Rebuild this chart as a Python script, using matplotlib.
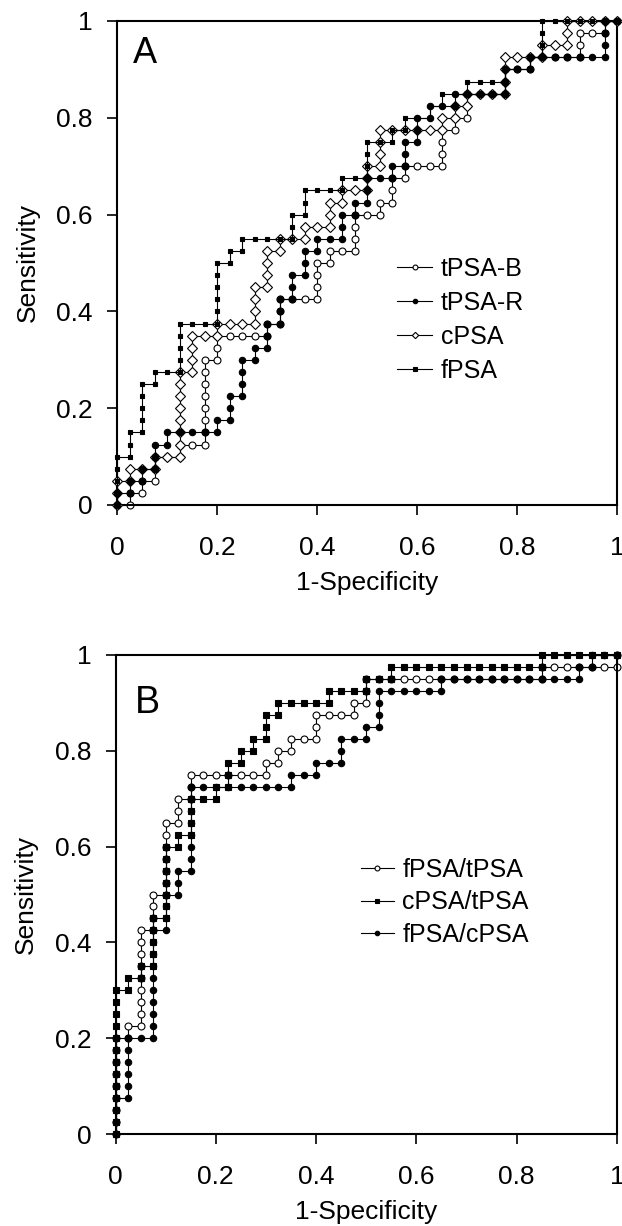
import matplotlib
matplotlib.use('Agg')
import matplotlib.pyplot as plt
import numpy as np

plt.rcParams['font.family'] = ['Liberation Sans', 'DejaVu Sans']

# Number of negatives / positives (each step = one case)
N_NEG = 40
N_POS = 40

# ---------- Panel A : (false-positive count, true-positive count) ----------
tpsa_b_A = [(0,0),(1,0),(1,1),(2,1),(2,2),(3,2),(3,3),(3,4),(4,4),(5,4),(5,5),(6,5),(7,5),
            (7,6),(7,7),(7,8),(7,9),(7,10),(7,11),(7,12),(8,12),(8,13),(8,14),(9,14),(10,14),
            (11,14),(12,14),(12,15),(13,15),(13,16),(13,17),(14,17),(15,17),(16,17),(16,18),
            (16,19),(16,20),(17,20),(17,21),(18,21),(19,21),(19,22),(19,23),(19,24),(20,24),
            (21,24),(21,25),(22,25),(22,26),(22,27),(23,27),(23,28),(24,28),(25,28),(26,28),
            (26,29),(26,30),(26,31),(27,31),(27,32),(28,32),(28,33),(28,34),(29,34),(30,34),
            (31,34),(31,35),(31,36),(32,36),(33,36),(33,37),(34,37),(35,37),(36,37),(37,37),
            (37,38),(37,39),(38,39),(39,39),(39,40),(40,40)]
tpsa_r_A = [(0,0),(0,1),(1,1),(1,2),(2,2),(2,3),(3,3),(3,4),(3,5),(4,5),(4,6),(5,6),(6,6),
            (7,6),(8,6),(8,7),(9,7),(9,8),(9,9),(10,9),(10,10),(10,11),(10,12),(11,12),(11,13),
            (12,13),(12,14),(12,15),(13,15),(13,16),(13,17),(14,17),(14,18),(14,19),(15,19),
            (15,20),(15,21),(16,21),(16,22),(17,22),(18,22),(18,23),(18,24),(19,24),(19,25),
            (20,25),(20,26),(20,27),(21,27),(22,27),(22,28),(23,28),(23,29),(23,30),(24,30),
            (24,31),(24,32),(25,32),(25,33),(26,33),(27,33),(27,34),(28,34),(29,34),(30,34),
            (31,34),(31,35),(31,36),(32,36),(33,36),(33,37),(34,37),(35,37),(36,37),(37,37),
            (38,37),(39,37),(39,38),(39,39),(39,40),(40,40)]
cpsa_A = [(0,0),(0,1),(0,2),(1,2),(1,3),(2,3),(3,3),(3,4),(4,4),(5,4),(5,5),(5,6),(5,7),(5,8),
          (5,9),(5,10),(5,11),(6,11),(6,12),(6,13),(6,14),(7,14),(8,14),(8,15),(9,15),(10,15),
          (11,15),(11,16),(11,17),(11,18),(12,18),(12,19),(12,20),(12,21),(13,21),(13,22),
          (14,22),(15,22),(15,23),(16,23),(17,23),(17,24),(17,25),(18,25),(18,26),(19,26),
          (20,26),(20,27),(20,28),(21,28),(21,29),(21,30),(21,31),(22,31),(23,31),(24,31),
          (25,31),(26,31),(26,32),(27,32),(27,33),(28,33),(28,34),(29,34),(30,34),(31,34),
          (31,35),(31,36),(31,37),(32,37),(33,37),(34,37),(34,38),(35,38),(36,38),(36,39),
          (36,40),(37,40),(38,40),(39,40),(40,40)]
fpsa_A = [(0,0),(0,1),(0,2),(0,3),(0,4),(1,4),(1,5),(1,6),(2,6),(2,7),(2,8),(2,9),(2,10),
          (3,10),(3,11),(4,11),(5,11),(5,12),(5,13),(5,14),(5,15),(6,15),(7,15),(8,15),(8,16),
          (8,17),(8,18),(8,19),(8,20),(9,20),(9,21),(10,21),(10,22),(11,22),(12,22),(13,22),
          (14,22),(14,23),(14,24),(15,24),(15,25),(15,26),(16,26),(17,26),(18,26),(18,27),
          (19,27),(20,27),(20,28),(20,29),(20,30),(21,30),(22,30),(22,31),(23,31),(23,32),
          (24,32),(25,32),(25,33),(26,33),(26,34),(27,34),(28,34),(28,35),(29,35),(30,35),
          (31,35),(31,36),(32,36),(33,36),(33,37),(34,37),(34,38),(34,39),(34,40),(35,40),
          (36,40),(37,40),(38,40),(39,40),(40,40)]

# ---------- Panel B ----------
f_t_B = [(0,0),(0,1),(0,2),(0,3),(0,4),(0,5),(0,6),(0,7),(0,8),(1,8),(1,9),(2,9),(2,10),(2,11),
         (2,12),(2,13),(2,14),(2,15),(2,16),(2,17),(3,17),(3,18),(3,19),(3,20),(4,20),(4,21),
         (4,22),(4,23),(4,24),(4,25),(4,26),(5,26),(5,27),(5,28),(6,28),(6,29),(6,30),(7,30),
         (8,30),(9,30),(10,30),(11,30),(12,30),(12,31),(13,31),(13,32),(14,32),(14,33),(15,33),
         (16,33),(16,34),(16,35),(17,35),(18,35),(19,35),(19,36),(20,36),(20,37),(20,38),
         (21,38),(22,38),(23,38),(24,38),(25,38),(26,38),(27,38),(28,38),(29,38),(30,38),
         (31,38),(32,38),(33,38),(34,38),(34,39),(35,39),(36,39),(37,39),(38,39),(39,39),
         (40,39),(40,40)]
c_t_B = [(0,0),(0,1),(0,2),(0,3),(0,4),(0,5),(0,6),(0,7),(0,8),(0,9),(0,10),(0,11),(0,12),
         (1,12),(1,13),(2,13),(2,14),(3,14),(3,15),(3,16),(3,17),(3,18),(4,18),(4,19),(4,20),
         (4,21),(4,22),(4,23),(4,24),(5,24),(5,25),(6,25),(6,26),(6,27),(6,28),(7,28),(8,28),
         (8,29),(9,29),(9,30),(9,31),(10,31),(10,32),(11,32),(11,33),(12,33),(12,34),(12,35),
         (13,35),(13,36),(14,36),(15,36),(16,36),(17,36),(17,37),(18,37),(19,37),(20,37),
         (20,38),(21,38),(22,38),(22,39),(23,39),(24,39),(25,39),(26,39),(27,39),(28,39),
         (29,39),(30,39),(31,39),(32,39),(33,39),(34,39),(34,40),(35,40),(36,40),(37,40),
         (38,40),(39,40),(40,40)]
f_c_B = [(0,0),(0,1),(0,2),(0,3),(1,3),(1,4),(1,5),(1,6),(1,7),(1,8),(2,8),(3,8),(3,9),(3,10),
         (3,11),(3,12),(3,13),(3,14),(3,15),(3,16),(3,17),(4,17),(4,18),(4,19),(4,20),(5,20),
         (5,21),(5,22),(6,22),(6,23),(6,24),(6,25),(6,26),(6,27),(6,28),(6,29),(7,29),(8,29),
         (9,29),(10,29),(11,29),(12,29),(13,29),(14,29),(14,30),(15,30),(16,30),(16,31),(17,31),
         (18,31),(18,32),(18,33),(19,33),(20,33),(20,34),(21,34),(21,35),(21,36),(21,37),
         (22,37),(23,37),(24,37),(25,37),(26,37),(26,38),(27,38),(28,38),(29,38),(30,38),
         (31,38),(32,38),(33,38),(34,38),(35,38),(36,38),(37,38),(37,39),(38,39),(38,40),
         (39,40),(40,40)]

labels_A = ['tPSA-B', 'tPSA-R', 'cPSA', 'fPSA']
labels_B = ['fPSA/tPSA', 'cPSA/tPSA', 'fPSA/cPSA']
ticks = [0, 0.2, 0.4, 0.6, 0.8, 1]
tick_labels = ['0', '0.2', '0.4', '0.6', '0.8', '1']


def xy(pts):
    a = np.array(pts, dtype=float)
    return a[:, 0] / N_NEG, a[:, 1] / N_POS


fig = plt.figure(figsize=(6.22, 12.26), dpi=100)
axA = fig.add_axes([117/622, (1226-505)/1226, 500/622, 484/1226])
axB = fig.add_axes([115.5/622, (1226-1134)/1226, 501.5/622, 479/1226])

lw = 0.8
styleA = {
    'tPSA-B': ('o', 5.0, 'white'),
    'tPSA-R': ('o', 4.6, 'black'),
    'cPSA': ('D', 4.6, 'white'),
    'fPSA': ('s', 3.2, 'black'),
}
styleB = {
    'fPSA/tPSA': ('o', 5.0, 'white'),
    'cPSA/tPSA': ('s', 5.0, 'black'),
    'fPSA/cPSA': ('o', 4.6, 'black'),
}

handlesA = {}
for name, pts, z in [('tPSA-B', tpsa_b_A, 2), ('cPSA', cpsa_A, 3), ('fPSA', fpsa_A, 4), ('tPSA-R', tpsa_r_A, 5)]:
    m, ms, fc = styleA[name]
    x, y = xy(pts)
    h, = axA.plot(x, y, color='black', lw=lw, marker=m, ms=ms, mfc=fc, mec='black',
                  mew=0.8, clip_on=False, zorder=z, label=name)
    handlesA[name] = h

handlesB = {}
for name, pts, z in [('fPSA/tPSA', f_t_B, 2), ('fPSA/cPSA', f_c_B, 3), ('cPSA/tPSA', c_t_B, 4)]:
    m, ms, fc = styleB[name]
    x, y = xy(pts)
    h, = axB.plot(x, y, color='black', lw=lw, marker=m, ms=ms, mfc=fc, mec='black',
                  mew=0.8, clip_on=False, zorder=z, label=name)
    handlesB[name] = h

for ax in (axA, axB):
    ax.set_xlim(0, 1)
    ax.set_ylim(0, 1)
    ax.set_xticks(ticks)
    ax.set_xticklabels(tick_labels)
    ax.set_yticks(ticks)
    ax.set_yticklabels(tick_labels)
    ax.tick_params(direction='out', length=7.5, width=1.2, labelsize=19,
                   top=False, right=False)
    ax.tick_params(axis='x', pad=15)
    ax.tick_params(axis='y', pad=10)
    for s in ax.spines.values():
        s.set_linewidth(1.5)
    ax.set_xlabel('1-Specificity', fontsize=19, labelpad=8)
    ax.set_ylabel('Sensitivity', fontsize=19, labelpad=12)

axA.text(0.032, 0.913, 'A', fontsize=26, va='baseline', ha='left')
axB.text(0.039, 0.879, 'B', fontsize=27, va='baseline', ha='left')

legA = axA.legend([handlesA[n] for n in labels_A], labels_A, loc='upper left',
                  bbox_to_anchor=(0.56, 0.512), frameon=False, fontsize=18,
                  handlelength=1.4, handletextpad=0.35, labelspacing=0.4,
                  borderpad=0, borderaxespad=0, markerscale=0.7, numpoints=1)
legB = axB.legend([handlesB[n] for n in labels_B], labels_B, loc='upper left',
                  bbox_to_anchor=(0.49, 0.577), frameon=False, fontsize=18,
                  handlelength=1.3, handletextpad=0.35, labelspacing=0.35,
                  borderpad=0, borderaxespad=0, markerscale=0.7, numpoints=1)

fig.savefig('out.png', dpi=100)
